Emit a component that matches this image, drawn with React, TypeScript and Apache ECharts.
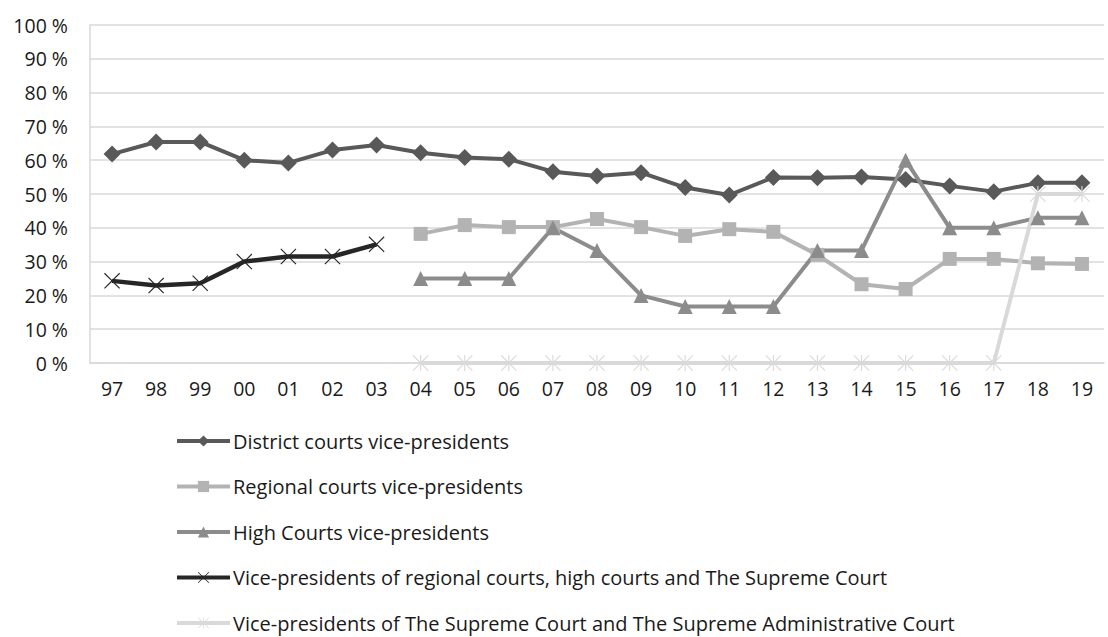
import React, { useEffect, useRef } from "react";
import * as echarts from "echarts";

const years = ["97", "98", "99", "00", "01", "02", "03", "04", "05", "06", "07", "08", "09", "10", "11", "12", "13", "14", "15", "16", "17", "18", "19"];
const yTicks = [0, 10, 20, 30, 40, 50, 60, 70, 80, 90, 100];

const districtVP = [61.8, 65.4, 65.4, 60.0, 59.2, 63.0, 64.5, 62.2, 60.8, 60.3, 56.6, 55.3, 56.3, 51.9, 49.7, 54.9, 54.8, 55.0, 54.3, 52.4, 50.7, 53.3, 53.3];
const regionalVP = [null, null, null, null, null, null, null, 38.2, 40.8, 40.2, 40.2, 42.6, 40.2, 37.6, 39.6, 38.8, 32.0, 23.3, 21.9, 30.8, 30.8, 29.5, 29.3];
const highVP = [null, null, null, null, null, null, null, 25.0, 25.0, 25.0, 40.0, 33.3, 20.0, 16.7, 16.7, 16.7, 33.3, 33.3, 60.0, 40.0, 40.0, 43.0, 43.0];
const combinedVP = [24.3, 22.9, 23.6, 30.0, 31.5, 31.5, 35.1, null, null, null, null, null, null, null, null, null, null, null, null, null, null, null, null];
const supremeVP = [null, null, null, null, null, null, null, 0, 0, 0, 0, 0, 0, 0, 0, 0, 0, 0, 0, 0, 0, 50.0, 50.0];

const seriesNames = [
  "District courts vice-presidents",
  "Regional courts vice-presidents",
  "High Courts vice-presidents",
  "Vice-presidents of regional courts, high courts and The Supreme Court",
  "Vice-presidents of The Supreme Court and The Supreme Administrative Court",
];

const crossPath = "path://M0,1 L1,0 L10,9 L19,0 L20,1 L11,10 L20,19 L19,20 L10,11 L1,20 L0,19 L9,10 Z";
const starPath = "path://M0,1 L1,0 L10,9 L19,0 L20,1 L11,10 L20,19 L19,20 L10,11 L1,20 L0,19 L9,10 Z M9.3,0 L10.7,0 L10.7,20 L9.3,20 Z";

const FONT = "Open Sans";

export default function App() {
  const ref = useRef<HTMLDivElement>(null);
  useEffect(() => {
    if (!ref.current) return;
    const chart = echarts.init(ref.current, null, { renderer: "svg" });
    const mk = (name: string, data: any[], color: string, symbol: string, size: number, width: number) => ({
      name,
      type: "line",
      data,
      connectNulls: false,
      symbol,
      symbolSize: size,
      lineStyle: { color, width },
      itemStyle: { color },
      emphasis: { disabled: true },
    });
    chart.setOption({
      animation: false,
      backgroundColor: "#ffffff",
      textStyle: { fontFamily: FONT },
      grid: { left: 90, right: 4, top: 25, bottom: 274, containLabel: false },
      xAxis: {
        type: "category",
        data: years,
        boundaryGap: true,
        axisLine: { show: true, lineStyle: { color: "#d9d9d9", width: 1.5 } },
        axisTick: { show: false },
        axisLabel: { color: "#1a1a1a", fontSize: 19.5, fontFamily: FONT, margin: 15 },
        splitLine: { show: false },
      },
      yAxis: {
        type: "value",
        min: yTicks[0],
        max: yTicks[yTicks.length - 1],
        interval: 10,
        axisLine: { show: true, lineStyle: { color: "#d9d9d9", width: 1.5 } },
        axisTick: { show: false },
        axisLabel: { color: "#1a1a1a", fontSize: 19.5, fontFamily: FONT, margin: 22, formatter: "{value} %" },
        splitLine: { show: true, lineStyle: { color: "#d9d9d9", width: 1.5 } },
      },
      legend: {
        orient: "vertical",
        left: 175,
        top: 431,
        height: 240,
        padding: 0,
        itemWidth: 53,
        itemHeight: 14,
        itemGap: 25.5,
        lineStyle: { width: 4 },
        textStyle: { color: "#1a1a1a", fontSize: 20, fontFamily: FONT, lineHeight: 20, padding: [0, 0, 0, -2] },
        data: seriesNames,
      },
      series: [
        mk(seriesNames[0], districtVP, "#595959", "diamond", 17, 4),
        mk(seriesNames[1], regionalVP, "#b3b3b3", "rect", 14, 4),
        mk(seriesNames[2], highVP, "#8c8c8c", "triangle", 15, 4),
        mk(seriesNames[3], combinedVP, "#262626", crossPath, 16, 4.5),
        mk(seriesNames[4], supremeVP, "#d9d9d9", starPath, 16, 4),
      ],
    });
    return () => chart.dispose();
  }, []);
  return <div ref={ref} style={{ position: "absolute", left: 0, top: 0, width: 1108, height: 637 }} />;
}
